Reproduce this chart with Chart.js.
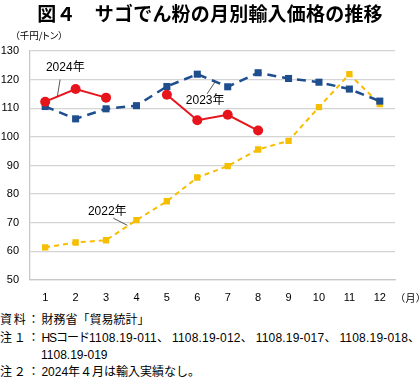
<!DOCTYPE html>
<html><head><meta charset="utf-8">
<script src="https://cdn.jsdelivr.net/npm/chart.js@4/dist/chart.umd.min.js"></script>
<style>
html,body{margin:0;padding:0;background:#fff;width:420px;height:382px;overflow:hidden;}
body{position:relative;font-family:"Liberation Sans","Noto Sans CJK JP",sans-serif;color:#000;}
.t{position:absolute;white-space:nowrap;}
#title{left:0;width:420px;text-align:center;top:-1px;font-size:19px;font-weight:bold;font-family:"Noto Sans CJK JP",sans-serif;letter-spacing:0.2px;}
#unit{left:15px;top:28px;font-size:9.5px;font-family:"Noto Sans CJK JP",sans-serif;font-feature-settings:"palt";}
#mon{left:400px;top:290px;font-size:10px;font-family:"Noto Sans CJK JP",sans-serif;font-feature-settings:"palt";letter-spacing:0.5px;}
.n{font-size:12px;line-height:14px;left:0;font-family:"Liberation Sans","Noto Sans CJK JP",sans-serif;}
.p{letter-spacing:1.8px;}
.h{letter-spacing:-1px;}
.c{letter-spacing:3px;}
.d{letter-spacing:0.2px;}
canvas{position:absolute;left:0;top:0;}
</style></head>
<body>
<canvas id="c" width="420" height="310"></canvas>
<div class="t" id="title">図４　サゴでん粉の月別輸入価格の推移</div>
<div class="t" id="unit">（千円/トン）</div>
<div class="t" id="mon">（月）</div>
<div class="t n" style="top:313px"><span class="p">資料：</span>財務省「貿易統計」</div>
<div class="t n" style="top:331px"><span class="p">注１：</span><span class="h">HSコード</span><span class="d">1108.19-011</span><span class="c">、</span><span class="d">1108.19-012</span><span class="c">、</span><span class="d">1108.19-017</span><span class="c">、</span><span class="d">1108.19-018</span>、</div>
<div class="t n" style="top:348px;left:41px">1108.19-019</div>
<div class="t n" style="top:365px"><span class="p">注２：</span>2024年４月は輸入実績なし。</div>
<script>
const months = ['1','2','3','4','5','6','7','8','9','10','11','12'];
const yTicks = [50,60,70,80,90,100,110,120,130];
const seriesNames = ['2024年','2023年','2022年'];
const v2024 = [112.3,116.7,113.7,null,114.7,105.8,107.7,102.2,null,null,null,null];
const v2023 = [110.6,106.3,109.8,110.9,117.6,121.9,117.5,122.4,120.4,119.1,116.7,112.5];
const v2022 = [61.4,63.1,63.9,70.9,77.5,85.8,89.8,95.6,98.6,110.4,121.9,111.5];
// annotation anchors in data units: [labelX, labelY, lineX1, lineY1, lineX2, lineY2]
const notes = [
  [0.66,124.1, 0.49,120.0, 0.40,114.2],
  [5.26,112.6, 5.59,119.3, 5.32,115.0],
  [2.04,73.8, 2.24,71.6, 2.70,69.1]
];

const annot = {
  id:'annot',
  afterDatasetsDraw(chart){
    const {ctx, scales:{x,y}} = chart;
    ctx.save();
    ctx.strokeStyle='#444'; ctx.lineWidth=0.9;
    ctx.fillStyle='#000';
    ctx.font='12px "Liberation Sans","Noto Sans CJK JP",sans-serif';
    ctx.textAlign='center'; ctx.textBaseline='middle';
    notes.forEach((n,i)=>{
      ctx.beginPath();
      ctx.moveTo(x.getPixelForValue(n[2]), y.getPixelForValue(n[3]));
      ctx.lineTo(x.getPixelForValue(n[4]), y.getPixelForValue(n[5]));
      ctx.stroke();
      ctx.fillText(seriesNames[i], x.getPixelForValue(n[0]), y.getPixelForValue(n[1]));
    });
    ctx.restore();
  }
};

new Chart(document.getElementById('c'), {
  type:'line',
  data:{
    labels: months,
    datasets:[
      {label:seriesNames[0], data:v2024, borderColor:'#E8141C', backgroundColor:'#E8141C', borderWidth:2,
       pointStyle:'circle', pointRadius:5, pointBorderWidth:0, spanGaps:false},
      {label:seriesNames[1], data:v2023, borderColor:'#1F4E8F', backgroundColor:'#1F4E8F', borderWidth:2.5, borderDash:[9,6],
       pointStyle:'rect', pointRadius:5, pointBorderWidth:0},
      {label:seriesNames[2], data:v2022, borderColor:'#F5BE00', backgroundColor:'#F5BE00', borderWidth:2, borderDash:[5,4],
       pointStyle:'rect', pointRadius:4.5, pointBorderWidth:0}
    ]
  },
  options:{
    responsive:false, animation:false, maintainAspectRatio:false,
    layout:{padding:{top:51,right:25,left:0,bottom:0}},
    plugins:{legend:{display:false}, tooltip:{enabled:false}},
    elements:{line:{tension:0}},
    scales:{
      x:{
        offset:true,
        grid:{display:false, drawTicks:false},
        border:{display:true, color:'#c8c8c8', width:1.3},
        ticks:{color:'#000', padding:11, font:{size:11, family:'"Liberation Sans",Arial,sans-serif'}, maxRotation:0},
        afterFit(s){ s.height = 30; }
      },
      y:{
        min:50, max:130,
        afterBuildTicks(s){ s.ticks = yTicks.map(v=>({value:v})); },
        grid:{color:'#d4d4d4', lineWidth:1.3, drawTicks:false},
        border:{display:true, color:'#c8c8c8', width:1.3},
        ticks:{color:'#000', padding:11, font:{size:11, family:'"Liberation Sans",Arial,sans-serif'}},
        afterFit(s){ s.width = 30; }
      }
    }
  },
  plugins:[annot]
});
</script>
</body></html>
